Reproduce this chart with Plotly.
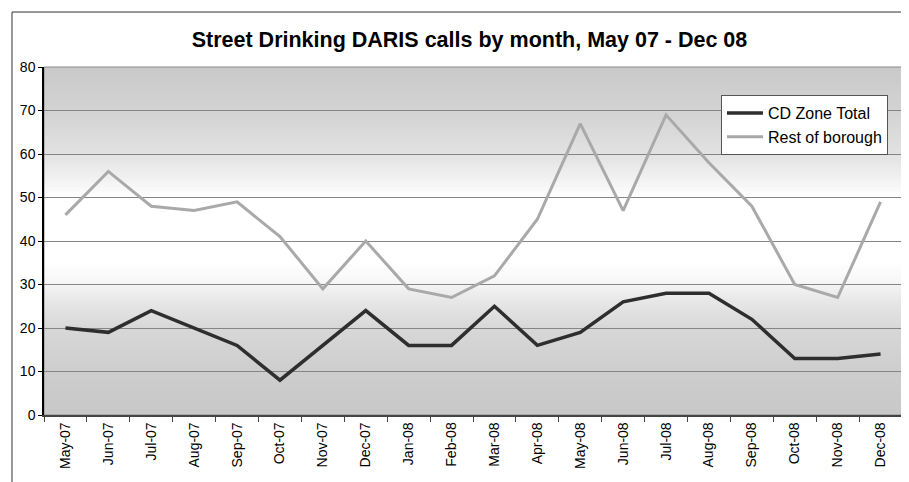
import numpy as np
import plotly.graph_objects as go

months = ["May-07", "Jun-07", "Jul-07", "Aug-07", "Sep-07", "Oct-07", "Nov-07", "Dec-07",
          "Jan-08", "Feb-08", "Mar-08", "Apr-08", "May-08", "Jun-08", "Jul-08", "Aug-08",
          "Sep-08", "Oct-08", "Nov-08", "Dec-08"]
cd_zone = [20, 19, 24, 20, 16, 8, 16, 24, 16, 16, 25, 16, 19, 26, 28, 28, 22, 13, 13, 14]
rest_borough = [46, 56, 48, 47, 49, 41, 29, 40, 29, 27, 32, 45, 67, 47, 69, 58, 48, 30, 27, 49]
y_ticks = [0, 10, 20, 30, 40, 50, 60, 70, 80]

FONT = "Liberation Sans, Arial, sans-serif"

fig = go.Figure()
fig.add_trace(go.Scatter(x=months, y=cd_zone, name="CD Zone Total", mode="lines",
                         line=dict(color="#2e2e2e", width=3.5)))
fig.add_trace(go.Scatter(x=months, y=rest_borough, name="Rest of borough", mode="lines",
                         line=dict(color="#a9a9a9", width=3)))

# gray - white - gray background gradient of the plot area (overlapping bands, no seams)
stops_v = [0, 10, 20, 26, 31, 35, 50, 54, 60, 70, 80]
stops_g = [200, 206, 216, 231, 248, 255, 255, 243, 226, 211, 202]
shapes = []
step = 0.5
for v in np.arange(0, 80, step):
    g = int(np.interp(v + step / 2, stops_v, stops_g))
    shapes.append(dict(type="rect", xref="paper", yref="y", x0=0, x1=1, y0=v,
                       y1=min(v + 2 * step, 80),
                       fillcolor=f"rgb({g},{g},{g})", line=dict(width=0), layer="below"))
# plot area border
shapes.append(dict(type="rect", xref="paper", yref="paper", x0=0, x1=1, y0=0, y1=1,
                   line=dict(color="#888888", width=1), layer="below"))
# outer chart border
shapes.append(dict(type="rect", xref="paper", yref="paper", x0=-0.0373, x1=1.0035,
                   y0=-0.25, y1=1.158, line=dict(color="#333333", width=1)))

# the page adds an 8px body margin, so the margins are reduced by 8 on top/left
fig.update_layout(
    width=909, height=482,
    margin=dict(l=36, r=15, t=59, b=75),
    paper_bgcolor="white", plot_bgcolor="white",
    font=dict(family=FONT, size=13, color="black"),
    title=dict(text="<b>Street Drinking DARIS calls by month, May 07 - Dec 08</b>",
               x=0.5077, xanchor="center", y=0.9357, yanchor="middle",
               font=dict(family=FONT, size=21.5, color="black")),
    shapes=shapes,
    legend=dict(x=0.789, y=0.9195, xanchor="left", yanchor="top",
                bgcolor="white", bordercolor="#555555", borderwidth=1,
                itemwidth=36, font=dict(family=FONT, size=16), tracegroupgap=2),
    xaxis=dict(type="category", range=[-0.5, 19.5], showgrid=False,
               tickangle=-90, ticks="outside", tickson="boundaries", ticklen=5,
               tickcolor="#444444", showline=True, linecolor="#444444", linewidth=1.5,
               tickfont=dict(size=14)),
    yaxis=dict(range=[0, 80], tickvals=y_ticks, showgrid=True, gridcolor="#858585",
               gridwidth=1, zeroline=False, ticks="outside", ticklen=4,
               tickcolor="black", showline=True, linecolor="black", linewidth=1.5,
               tickfont=dict(size=14)),
)

fig.write_html("out.html")
